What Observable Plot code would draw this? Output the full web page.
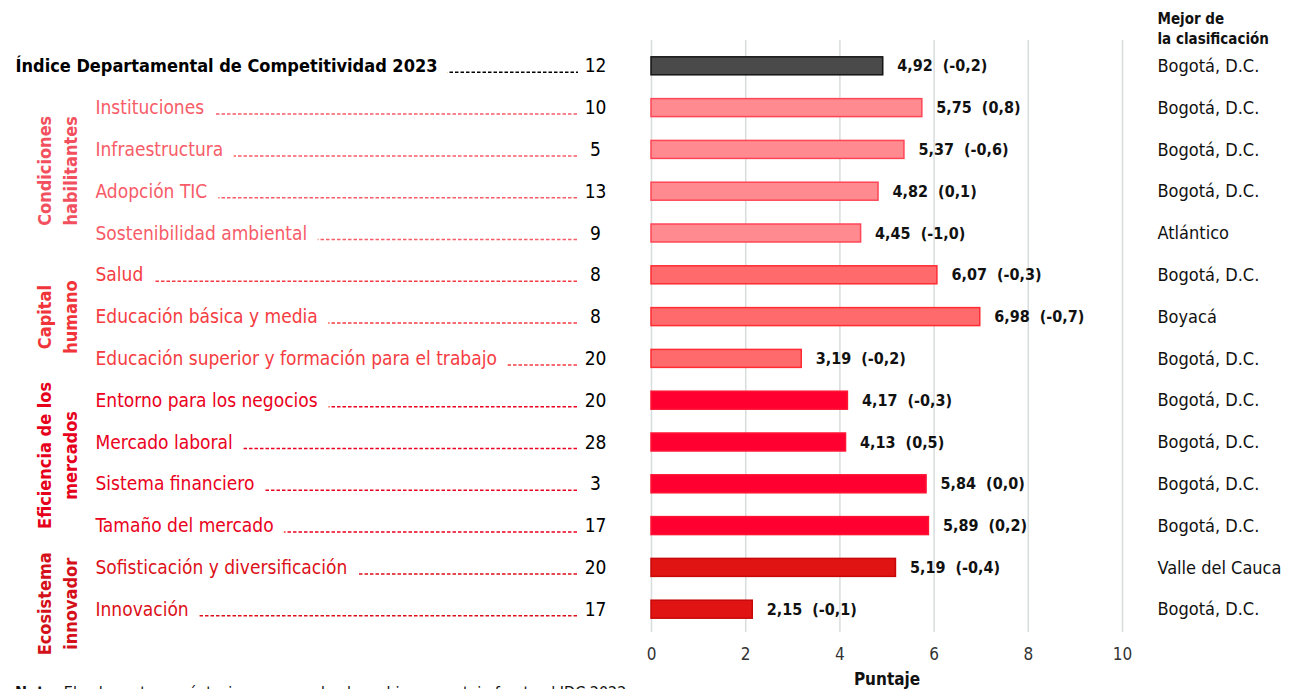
<!DOCTYPE html>
<html><head><meta charset="utf-8">
<script src="https://cdn.jsdelivr.net/npm/d3@7"></script>
<script src="https://cdn.jsdelivr.net/npm/@observablehq/plot@0.6"></script>
<style>
html,body{margin:0;padding:0;background:#fff;overflow:hidden;}
#wrap{position:relative;width:1307px;height:689px;overflow:hidden;}
#note{position:absolute;left:15px;top:683px;font-size:16px;color:#111;white-space:nowrap;font-family:"DejaVu Sans Condensed","Liberation Sans Narrow",Roboto,sans-serif;}
</style></head>
<body><div id="wrap"><div id="chart"></div><div id="note"><b>Nota:</b> El valor entre paréntesis corresponde al cambio en puntaje frente al IDC 2022.</div></div>
<script>
// ---- data ----
const categories = [
  "Índice Departamental de Competitividad 2023",
  "Instituciones", "Infraestructura", "Adopción TIC", "Sostenibilidad ambiental",
  "Salud", "Educación básica y media", "Educación superior y formación para el trabajo",
  "Entorno para los negocios", "Mercado laboral", "Sistema financiero", "Tamaño del mercado",
  "Sofisticación y diversificación", "Innovación"
];
const groups = [
  "Total",
  "Condiciones habilitantes", "Condiciones habilitantes", "Condiciones habilitantes", "Condiciones habilitantes",
  "Capital humano", "Capital humano", "Capital humano",
  "Eficiencia de los mercados", "Eficiencia de los mercados", "Eficiencia de los mercados", "Eficiencia de los mercados",
  "Ecosistema innovador", "Ecosistema innovador"
];
const scores  = [4.92, 5.75, 5.37, 4.82, 4.45, 6.07, 6.98, 3.19, 4.17, 4.13, 5.84, 5.89, 5.19, 2.15];
const changes = [-0.2, 0.8, -0.6, 0.1, -1.0, -0.3, -0.7, -0.2, -0.3, 0.5, 0.0, 0.2, -0.4, -0.1];
const ranks   = [12, 10, 5, 13, 9, 8, 8, 20, 20, 28, 3, 17, 20, 17];
const bestDepartments = [
  "Bogotá, D.C.", "Bogotá, D.C.", "Bogotá, D.C.", "Bogotá, D.C.", "Atlántico",
  "Bogotá, D.C.", "Boyacá", "Bogotá, D.C.",
  "Bogotá, D.C.", "Bogotá, D.C.", "Bogotá, D.C.", "Bogotá, D.C.",
  "Valle del Cauca", "Bogotá, D.C."
];
const groupNames = ["Condiciones habilitantes", "Capital humano", "Eficiencia de los mercados", "Ecosistema innovador"];
const groupLabelLines = ["Condiciones\nhabilitantes", "Capital\nhumano", "Eficiencia de los\nmercados", "Ecosistema\ninnovador"];
const xTicks = [0, 2, 4, 6, 8, 10];
const xLabel = "Puntaje";
const bestHeader = "Mejor de\nla clasificación";

// ---- styles ----
const palette = {
  "Total":                      {fill: "#4a4a4a", stroke: "#141414", text: "#000000", group: "#000000"},
  "Condiciones habilitantes":   {fill: "#ff8a90", stroke: "#ff4656", text: "#f75c68", group: "#f2505e"},
  "Capital humano":             {fill: "#ff6a6c", stroke: "#ff2c34", text: "#f53c42", group: "#f0343a"},
  "Eficiencia de los mercados": {fill: "#ff0030", stroke: "#ff1434", text: "#ea0020", group: "#e6001c"},
  "Ecosistema innovador":       {fill: "#e11414", stroke: "#c80808", text: "#dc1018", group: "#d4101a"}
};
const FONT = '"DejaVu Sans Condensed","Liberation Sans Narrow",Roboto,sans-serif';
const W = 1307, H = 689, mL = 651, mR = 185, mT = 33, mB = 47, PAD = 0.57;
const step = (H - mT - mB) / (categories.length + PAD);
const groupShift = [0, 0, -8, 15];

const fmt = (v, d) => v.toFixed(d).replace(".", ",");
const rows = categories.map((c, i) => ({
  category: c, group: groups[i], score: scores[i], change: changes[i],
  rank: ranks[i], best: bestDepartments[i],
  label: `${fmt(scores[i], 2)}\u00a0\u00a0(${fmt(changes[i], 1)})`
}));
const total = rows.filter(d => d.group === "Total");
const subs = rows.filter(d => d.group !== "Total");
const groupData = groupNames.map((g, k) => {
  const members = rows.filter(d => d.group === g);
  return {group: g, text: groupLabelLines[k], first: members[0].category,
          offset: (members.length - 1) / 2 * step + groupShift[k]};
});
const groupMarks = groupData.map(g =>
  Plot.text([g], {y: "first", text: "text", dy: g.offset, frameAnchor: "left", dx: 55 - mL,
    rotate: -90, textAnchor: "middle", lineAnchor: "middle", lineHeight: 1.45,
    fill: palette[g.group].group, fontWeight: "bold", fontSize: 18, fontFamily: FONT})
);

const chart = Plot.plot({
  width: W, height: H,
  marginLeft: mL, marginRight: mR, marginTop: mT, marginBottom: mB,
  style: {fontFamily: FONT, background: "#fff", overflow: "visible"},
  x: {domain: [0, 10]},
  y: {domain: categories, padding: PAD, round: false, axis: null},
  color: {type: "identity"},
  marks: [
    Plot.ruleX(xTicks, {stroke: "#d8dcdc", strokeWidth: 1.5, insetTop: 7, insetBottom: 10}),
    // leaders
    Plot.ruleY(subs, {y: "category", dy: 6, stroke: d => palette[d.group].text, strokeWidth: 1.5,
      strokeDasharray: "3.5,2", insetLeft: 95 - mL, insetRight: (W - mR) - 578}),
    Plot.ruleY(total, {y: "category", dy: 6, stroke: "#000", strokeWidth: 1.5,
      strokeDasharray: "3.5,2", insetLeft: 15 - mL, insetRight: (W - mR) - 578}),
    // category labels with white halo
    Plot.text(subs, {y: "category", text: "category", frameAnchor: "left", dx: 95 - mL, textAnchor: "start",
      fill: d => palette[d.group].text, stroke: "#fff", strokeWidth: 24, paintOrder: "stroke",
      fontSize: 19, fontFamily: FONT}),
    Plot.text(total, {y: "category", text: "category", frameAnchor: "left", dx: 15 - mL, textAnchor: "start",
      fill: "#000", stroke: "#fff", strokeWidth: 24, paintOrder: "stroke",
      fontSize: 18, fontWeight: "bold", fontFamily: FONT}),
    // ranks
    Plot.text(rows, {y: "category", text: d => String(d.rank), frameAnchor: "left", dx: 595 - mL,
      textAnchor: "middle", fill: "#000", fontSize: 19, fontWeight: d => d.group === "Total" ? "bold" : "normal",
      fontFamily: FONT}),
    // group labels
    ...groupMarks,
    // bars
    Plot.barX(rows, {x: "score", y: "category", fill: d => palette[d.group].fill,
      stroke: d => palette[d.group].stroke, strokeWidth: 1.5}),
    // value labels
    Plot.text(rows, {x: "score", y: "category", text: "label", dx: 14, textAnchor: "start",
      fill: "#111", fontWeight: "bold", fontSize: 16, fontFamily: FONT}),
    // best
    Plot.text(rows, {y: "category", text: "best", frameAnchor: "right", dx: 35, textAnchor: "start",
      fill: "#111", fontSize: 18, fontFamily: FONT}),
    Plot.text([bestHeader], {text: d => d, frameAnchor: "top-right", dx: 35, dy: -24, textAnchor: "start",
      lineAnchor: "top", lineHeight: 1.35, fill: "#111", fontWeight: "bold", fontSize: 15, fontFamily: FONT}),
    // axis
    Plot.axisX(xTicks, {tickSize: 0, tickPadding: 5, fontSize: 17, label: null, fill: "#333", fontFamily: FONT}),
    Plot.text([xLabel], {text: d => d, frameAnchor: "bottom", dy: 42, fontWeight: "bold", fontSize: 17,
      fill: "#111", fontFamily: FONT})
  ]
});
document.getElementById("chart").appendChild(chart);
</script>
</body></html>
